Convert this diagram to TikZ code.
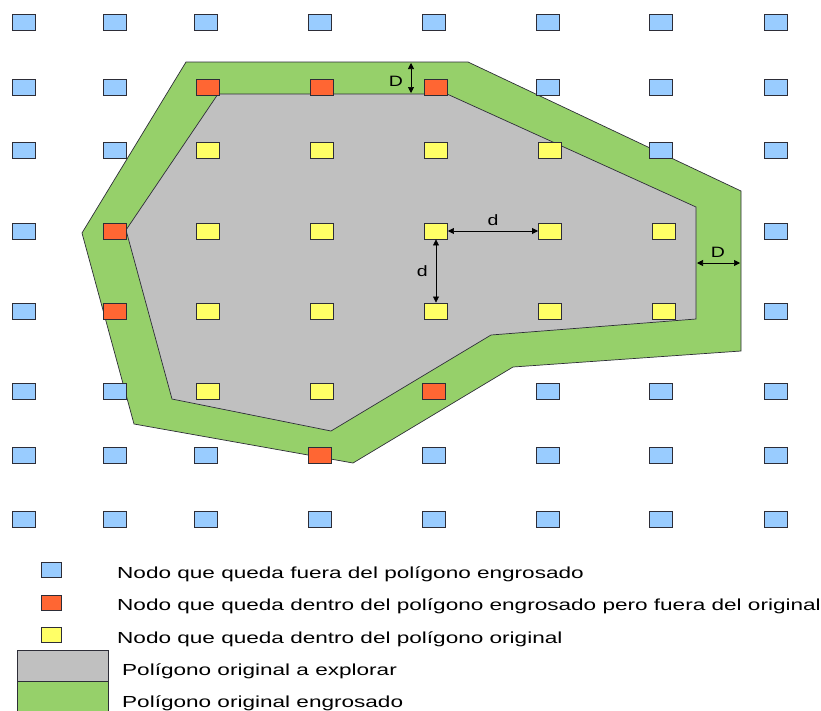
\documentclass[tikz,border=0pt]{standalone}
\usepackage{fontspec}
\setmainfont{Liberation Sans}
\usetikzlibrary{arrows.meta}
\definecolor{cblue}{RGB}{153,204,255}
\definecolor{cred}{RGB}{255,102,51}
\definecolor{cyel}{RGB}{255,255,102}
\definecolor{cgray}{RGB}{192,192,192}
\definecolor{cgreen}{RGB}{150,208,106}
\definecolor{cedge}{RGB}{45,45,55}
\newcommand{\widetxt}[1]{\scalebox{1.41}[1]{#1}}
\newcommand{\widelbl}[1]{\scalebox{1.3}[1]{#1}}
\tikzset{
  >={Triangle[length=6pt,width=6pt]},
  sq/.style={draw=cedge,line width=0.9pt,minimum width=23pt,minimum height=16pt,inner sep=0pt},
  bsq/.style={sq,fill=cblue},
  rsq/.style={sq,fill=cred},
  ysq/.style={sq,fill=cyel},
  lsq/.style={draw=cedge,line width=0.8pt,minimum width=20pt,minimum height=15pt,inner sep=0pt},
  dim/.style={line width=0.7pt,<->},
  lbl/.style={font=\fontsize{15}{15}\selectfont,inner sep=0pt},
  leg/.style={font=\fontsize{16}{16}\selectfont,anchor=base west,inner sep=0pt},
  poly/.style={draw=cedge,line width=0.7pt},
  bigsq/.style={draw=cedge,line width=0.8pt,minimum width=91pt,minimum height=31pt,inner sep=0pt}
}
\begin{document}
\begin{tikzpicture}[x=1pt,y=-1pt]
\useasboundingbox (0,0) rectangle (821,710);
% thickened polygon
\filldraw[fill=cgreen,poly] (186,62) -- (468,62) -- (741,191) -- (741,351) -- (513,367) -- (353,463) -- (134,424) -- (82,233) -- cycle;
% original polygon
\filldraw[fill=cgray,poly] (218,94) -- (447,94) -- (696,207) -- (696,319) -- (491,335) -- (331,431) -- (172,399) -- (126,230) -- cycle;
% first and last rows
\foreach \c/\x in {1/24,2/115,3/206,4/320,5/434,6/548,7/661,8/776}{
  \node[bsq] (n1-\c) at (\x,22) {};
  \node[bsq] (n8-\c) at (\x,519) {};
}
% row 2
\node[bsq] (n2-1) at (24,87) {};
\node[bsq] (n2-2) at (115,87) {};
\node[rsq] (n2-3) at (208,87) {};
\node[rsq] (n2-4) at (322,87) {};
\node[rsq] (n2-5) at (436,87) {};
\node[bsq] (n2-6) at (548,87) {};
\node[bsq] (n2-7) at (661,87) {};
\node[bsq] (n2-8) at (776,87) {};
% row 3
\node[bsq] (n3-1) at (24,150) {};
\node[bsq] (n3-2) at (115,150) {};
\node[ysq] (n3-3) at (208,150) {};
\node[ysq] (n3-4) at (322,150) {};
\node[ysq] (n3-5) at (436,150) {};
\node[ysq] (n3-6) at (550,150) {};
\node[bsq] (n3-7) at (661,150) {};
\node[bsq] (n3-8) at (776,150) {};
% row 4
\node[bsq] (n4-1) at (24,231) {};
\node[rsq] (n4-2) at (115,231) {};
\node[ysq] (n4-3) at (208,231) {};
\node[ysq] (n4-4) at (322,231) {};
\node[ysq] (n4-5) at (436,231) {};
\node[ysq] (n4-6) at (550,231) {};
\node[ysq] (n4-7) at (664,231) {};
\node[bsq] (n4-8) at (776,231) {};
% row 5
\node[bsq] (n5-1) at (24,311) {};
\node[rsq] (n5-2) at (115,311) {};
\node[ysq] (n5-3) at (208,311) {};
\node[ysq] (n5-4) at (322,311) {};
\node[ysq] (n5-5) at (436,311) {};
\node[ysq] (n5-6) at (550,311) {};
\node[ysq] (n5-7) at (664,311) {};
\node[bsq] (n5-8) at (776,311) {};
% row 6
\node[bsq] (n6-1) at (24,391) {};
\node[bsq] (n6-2) at (115,391) {};
\node[ysq] (n6-3) at (208,391) {};
\node[ysq] (n6-4) at (322,391) {};
\node[rsq] (n6-5) at (434,391) {};
\node[bsq] (n6-6) at (548,391) {};
\node[bsq] (n6-7) at (661,391) {};
\node[bsq] (n6-8) at (776,391) {};
% row 7
\node[bsq] (n7-1) at (24,455) {};
\node[bsq] (n7-2) at (115,455) {};
\node[bsq] (n7-3) at (206,455) {};
\node[rsq] (n7-4) at (320,455) {};
\node[bsq] (n7-5) at (434,455) {};
\node[bsq] (n7-6) at (548,455) {};
\node[bsq] (n7-7) at (661,455) {};
\node[bsq] (n7-8) at (776,455) {};
% dimension arrows
\draw[dim] (n4-5.east) -- (n4-6.west) node[midway,above=5pt,lbl] (dh) {\widelbl{d}};
\draw[dim] (n4-5.south) -- (n5-5.north) node[midway,left=8pt,lbl] (dv) {\widelbl{d}};
\coordinate (Dt1) at (411,63);
\coordinate (Dt2) at (411,93);
\draw[dim] (Dt1) -- (Dt2);
\node[lbl] (Dtop) at (396,81) {\widelbl{D}};
\coordinate (Dr1) at (697,263);
\coordinate (Dr2) at (740,263);
\draw[dim] (Dr1) -- (Dr2);
\node[lbl] (Dright) at (718,252) {\widelbl{D}};
% legend
\node[lsq,fill=cblue] (l1) at (51,570) {};
\node[lsq,fill=cred] (l2) at (51,603) {};
\node[lsq,fill=cyel] (l3) at (51,635) {};
\node[bigsq,fill=cgray] (l4) at (62.5,665.5) {};
\node[bigsq,fill=cgreen] (l5) at (62.5,696.5) {};
\node[leg] (t1) at (117,578) {\widetxt{Nodo que queda fuera del polígono engrosado}};
\node[leg] (t2) at (117,610) {\widetxt{Nodo que queda dentro del polígono engrosado pero fuera del original}};
\node[leg] (t3) at (117,643) {\widetxt{Nodo que queda dentro del polígono original}};
\node[leg] (t4) at (122,675) {\widetxt{Polígono original a explorar}};
\node[leg] (t5) at (122,707) {\widetxt{Polígono original engrosado}};
\end{tikzpicture}
\end{document}
